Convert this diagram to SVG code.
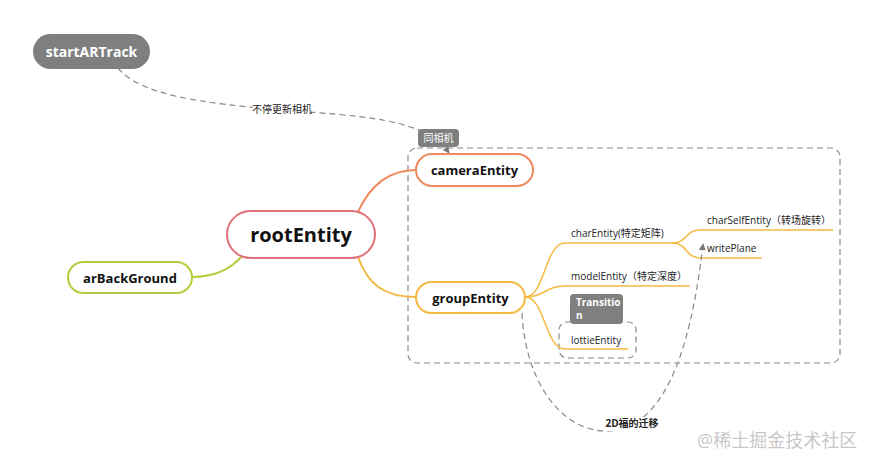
<svg xmlns="http://www.w3.org/2000/svg" width="874" height="466" viewBox="0 0 874 466">
<defs>
<style>
.t{font-family:"Open Sans","Noto Sans CJK SC",sans-serif;}
.b{font-weight:700;text-anchor:middle;dominant-baseline:central;fill:#111;}
.s{font-size:10px;fill:#222;}
.dash{fill:none;stroke:#888;stroke-width:1.2;stroke-dasharray:6 4;}
.lbl{fill:#7f7f7f;}
</style>
<marker id="ah" viewBox="0 0 8 8" refX="7" refY="4" markerWidth="7" markerHeight="7" orient="auto-start-reverse" markerUnits="userSpaceOnUse">
<path d="M0,0 L8,4 L0,8 z" fill="#777"/>
</marker>
</defs>
<rect width="874" height="466" fill="#fff"/>

<!-- boundaries -->
<rect class="dash" x="408" y="148" width="432" height="215" rx="9"/>
<rect class="dash" x="559" y="322" width="77" height="36" rx="8"/>

<g id="connectors">
<path d="M358,212 C368,190 385,170 416,170" fill="none" stroke="#ee8a5e" stroke-width="2"/>
<path d="M358,257 C368,285 385,297 416,297" fill="none" stroke="#f5b942" stroke-width="2"/>
<path d="M242,256 C232,268 215,277 192,277" fill="none" stroke="#b5cc3c" stroke-width="2"/>
<path d="M525,297 C545,297 545,243 565,243 L672,243" fill="none" stroke="#f5b942" stroke-width="1.5"/>
<path d="M525,297 C545,297 545,286 565,286 L690,286" fill="none" stroke="#f5b942" stroke-width="1.5"/>
<path d="M525,297 C545,297 545,349 565,349 L628,349" fill="none" stroke="#f5b942" stroke-width="1.5"/>
<path d="M672,243 C688,243 685,230 700,230 L833,230" fill="none" stroke="#f5b942" stroke-width="1.5"/>
<path d="M672,243 C688,243 685,258 700,258 L762,258" fill="none" stroke="#f5b942" stroke-width="1.5"/>
<path class="dash" d="M118,68 C140,95 200,103 282,110 C360,116 425,118 449,153" marker-end="url(#ah)"/>
<path class="dash" d="M522,313 C525,380 560,430 605,431 C660,432 690,360 703,244" marker-end="url(#ah)"/>
<rect x="253" y="104" width="58" height="13" fill="#fff"/>
<text class="t s" x="282" y="113" text-anchor="middle" fill="#111" font-size="9">不停更新相机</text>
<rect x="606" y="418" width="52" height="13" fill="#fff"/>
<text class="t s" x="632" y="427" text-anchor="middle" font-weight="700" font-size="9">2D福的迁移</text>
</g>

<g id="startARTrack">
<rect x="33" y="34" width="117" height="35" rx="17.5" fill="#7f7f7f"/>
<text class="t b" x="91.5" y="51" font-size="14" style="fill:#fff">startARTrack</text>
</g>

<g id="label-samecam">
<rect class="lbl" x="418" y="129" width="41" height="18" rx="4"/>
<text class="t" x="438.5" y="142" font-size="10" fill="#fff" text-anchor="middle">同相机</text>
</g>

<g id="rootEntity">
<rect x="227" y="211" width="148" height="47" rx="23.5" fill="#fff" stroke="#e2707a" stroke-width="2"/>
<text class="t b" x="301" y="234" font-size="20">rootEntity</text>
</g>

<g id="cameraEntity">
<rect x="416" y="154" width="117" height="32" rx="16" fill="#fff" stroke="#ee8a5e" stroke-width="2"/>
<text class="t b" x="474.5" y="170" font-size="13">cameraEntity</text>
</g>

<g id="arBackGround">
<rect x="68" y="262" width="124" height="31" rx="15.5" fill="#fff" stroke="#b5cc3c" stroke-width="2"/>
<text class="t b" x="130" y="277.5" font-size="13">arBackGround</text>
</g>

<g id="groupEntity">
<rect x="416" y="282" width="109" height="31" rx="15.5" fill="#fff" stroke="#f5b942" stroke-width="2"/>
<text class="t b" x="470.5" y="297.5" font-size="13">groupEntity</text>
</g>

<g id="charEntity"><text class="t s" x="571" y="237">charEntity(特定矩阵)</text></g>
<g id="modelEntity"><text class="t s" x="571" y="280">modelEntity（特定深度）</text></g>
<g id="lottieEntity"><text class="t s" x="571" y="344">lottieEntity</text></g>
<g id="charSelfEntity"><text class="t s" x="707" y="224">charSelfEntity（转场旋转）</text></g>
<g id="writePlane"><text class="t s" x="707" y="252">writePlane</text></g>

<g id="label-transition">
<rect class="lbl" x="570" y="294" width="53" height="30" rx="4"/>
<text class="t" x="576" y="306" font-size="10" font-weight="700" fill="#fff">Transitio</text>
<text class="t" x="576" y="319" font-size="10" font-weight="700" fill="#fff">n</text>
</g>

<text class="t" x="697" y="447" font-size="18" fill="#c8c8c8">@稀土掘金技术社区</text>
</svg>
